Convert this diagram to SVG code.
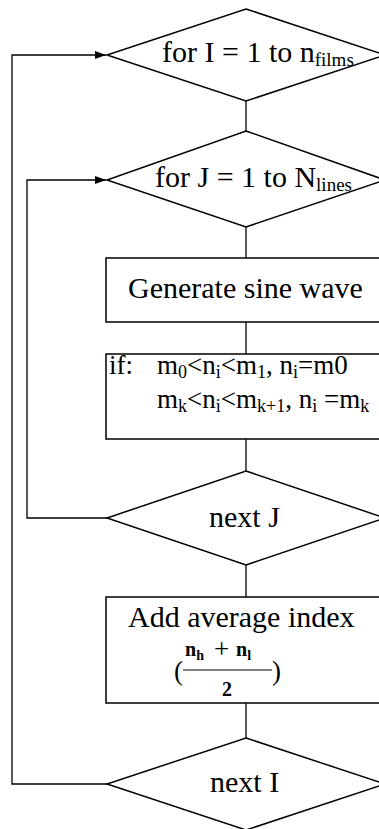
<svg xmlns="http://www.w3.org/2000/svg" width="379" height="829" viewBox="0 0 379 829">
<style>
.shape{fill:#fff;stroke:#000;stroke-width:1.5}
.conn{fill:none;stroke:#000;stroke-width:1.3}
.t{font-family:"Liberation Serif","Times New Roman",serif;fill:#000;font-size:30px}
.m{font-family:"Liberation Serif","Times New Roman",serif;fill:#000;font-size:27px}
.f{font-family:"Liberation Serif","Times New Roman",serif;fill:#000;font-size:20px;font-weight:bold}
</style>
<defs>
<marker id="arr" markerWidth="12" markerHeight="8" refX="11" refY="4" orient="auto" markerUnits="userSpaceOnUse">
<path d="M0,0 L11,4 L0,8 Z" fill="#000"/>
</marker>
</defs>
<rect width="379" height="829" fill="#fff"/>
<g id="connectors">
<line class="conn" x1="246" y1="101" x2="246" y2="131"/>
<line class="conn" x1="246" y1="227" x2="246" y2="258"/>
<line class="conn" x1="246" y1="322" x2="246" y2="354"/>
<line class="conn" x1="246" y1="439" x2="246" y2="471"/>
<line class="conn" x1="246" y1="565" x2="246" y2="597"/>
<line class="conn" x1="246" y1="703" x2="246" y2="738"/>
<path class="conn" d="M107,784 H12 V55 H106" marker-end="url(#arr)"/>
<path class="conn" d="M107,518 H27 V180 H106" marker-end="url(#arr)"/>
</g>
<g id="forI">
<polygon class="shape" points="246,9 385,55 246,101 107,55"/>
<text class="t" x="162" y="62">for I = 1 to n<tspan font-size="19" dy="4">films</tspan></text>
</g>
<g id="forJ">
<polygon class="shape" points="246,131 385,180 246,227 107,180"/>
<text class="t" x="155" y="187">for J = 1 to N<tspan font-size="19" dy="4">lines</tspan></text>
</g>
<g id="sine">
<rect class="shape" x="106" y="258" width="290" height="64"/>
<text class="t" x="128" y="298">Generate sine wave</text>
</g>
<g id="ifbox">
<rect class="shape" x="106" y="354" width="290" height="85"/>
<text class="m" x="109" y="374">if:</text>
<text class="m" x="157" y="374">m<tspan font-size="18" dy="4">0</tspan><tspan dy="-4">&lt;n</tspan><tspan font-size="18" dy="4">i</tspan><tspan dy="-4">&lt;m</tspan><tspan font-size="18" dy="4">1</tspan><tspan dy="-4">, n</tspan><tspan font-size="18" dy="4">i</tspan><tspan dy="-4">=m0</tspan></text>
<text class="m" x="157" y="408">m<tspan font-size="18" dy="4">k</tspan><tspan dy="-4">&lt;n</tspan><tspan font-size="18" dy="4">i</tspan><tspan dy="-4">&lt;m</tspan><tspan font-size="18" dy="4">k+1</tspan><tspan dy="-4">, n</tspan><tspan font-size="18" dy="4">i</tspan><tspan dy="-4"> =m</tspan><tspan font-size="18" dy="4">k</tspan></text>
</g>
<g id="nextJ">
<polygon class="shape" points="246,471 385,518 246,565 107,518"/>
<text class="t" x="209" y="527">next J</text>
</g>
<g id="avg">
<rect class="shape" x="106" y="597" width="290" height="106"/>
<text class="t" x="128" y="627">Add average index</text>
<text class="f" x="185" y="656">n<tspan font-size="14" dy="4">h</tspan></text>
<text class="m" x="214" y="658" font-size="17">+</text>
<text class="f" x="236" y="656">n<tspan font-size="14" dy="4">l</tspan></text>
<line x1="183" y1="670" x2="272" y2="670" stroke="#000" stroke-width="1"/>
<text class="f" x="227" y="696" text-anchor="middle">2</text>
<text class="m" x="174" y="680" font-size="24">(</text>
<text class="m" x="272" y="680" font-size="24">)</text>
</g>
<g id="nextI">
<polygon class="shape" points="246,738 385,784 246,830 107,784"/>
<text class="t" x="210" y="792">next I</text>
</g>
</svg>
